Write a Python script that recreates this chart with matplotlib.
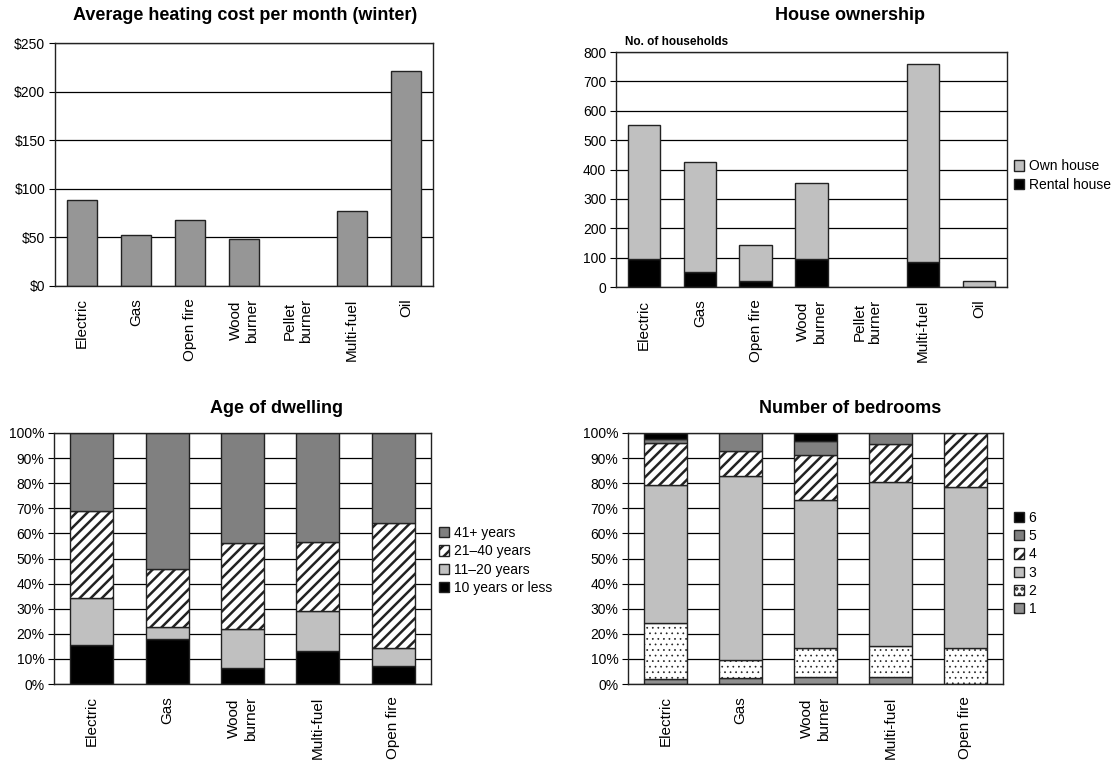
import numpy as np
import matplotlib
matplotlib.use("Agg")
import matplotlib.pyplot as plt

plt.rcParams['font.family'] = ['Liberation Sans', 'DejaVu Sans']
plt.rcParams['font.size'] = 10
plt.rcParams['hatch.linewidth'] = 1.8
plt.rcParams['hatch.color'] = 'black'

# --- data ---
cost_cats = ['Electric', 'Gas', 'Open fire', 'Wood\nburner', 'Pellet\nburner', 'Multi-fuel', 'Oil']
cost_vals = [88, 52, 68, 48, 0, 77, 221]
cost_ticks = [0, 50, 100, 150, 200, 250]
cost_labels = ['$0', '$50', '$100', '$150', '$200', '$250']

own_cats = cost_cats
own_house = [457, 374, 124, 260, 0, 676, 20]
rental_house = [94, 51, 20, 94, 0, 84, 0]

age_cats = ['Electric', 'Gas', 'Wood\nburner', 'Multi-fuel', 'Open fire']
age_names = ['10 years or less', '11\u201320 years', '21\u201340 years', '41+ years']
age_vals = [
    [15.4, 18.1, 6.2, 13.0, 7.3],
    [18.9, 4.7, 15.6, 16.0, 6.9],
    [34.8, 23.2, 34.2, 27.4, 49.8],
    [30.9, 54.0, 44.0, 43.6, 36.0],
]

bed_cats = age_cats
bed_names = ['1', '2', '3', '4', '5', '6']
bed_vals = [
    [1.9, 2.5, 2.9, 2.9, 0.0],
    [22.6, 7.2, 11.5, 12.3, 14.2],
    [54.6, 73.1, 59.1, 65.4, 64.1],
    [17.0, 9.9, 17.6, 15.1, 21.7],
    [1.6, 7.3, 5.8, 4.3, 0.0],
    [2.3, 0.0, 3.1, 0.0, 0.0],
]
pct_ticks = list(range(0, 101, 10))
pct_labels = [f'{v}%' for v in pct_ticks]

W, H = 1115, 762
fig = plt.figure(figsize=(W / 100, H / 100), dpi=100)


def box(l, t, r, b):
    return [l / W, 1 - b / H, (r - l) / W, (b - t) / H]


def style(ax, n):
    ax.set_xlim(-0.5, n - 0.5)
    ax.yaxis.grid(True, color='black', linewidth=0.9)
    ax.set_axisbelow(True)
    ax.tick_params(axis='x', length=0, pad=9, labelrotation=90, labelsize=11)
    ax.tick_params(axis='y', length=4, width=0.8, pad=3, labelsize=10)
    for s in ax.spines.values():
        s.set_color('#222222')
        s.set_linewidth(1.0)


def tidy(bars, lw=None):
    # zero-height segments are not drawn in the original
    for b in bars:
        if b.get_height() == 0:
            b.set_visible(False)
        if lw is not None and hasattr(b, 'set_hatch_linewidth'):
            b.set_hatch_linewidth(lw)


# --- average heating cost ---
ax1 = fig.add_axes(box(55, 43, 433, 286))
x = np.arange(len(cost_cats))
bars = ax1.bar(x, cost_vals, width=0.57, color='#969696', edgecolor='#222222', linewidth=1.0)
tidy(bars)
ax1.set_ylim(0, 250)
ax1.set_yticks(cost_ticks)
ax1.set_yticklabels(cost_labels)
ax1.set_xticks(x)
ax1.set_xticklabels(cost_cats)
style(ax1, len(cost_cats))
fig.text(245 / W, 1 - 15 / H, 'Average heating cost per month (winter)',
         ha='center', va='center', fontsize=13, fontweight='bold')

# --- house ownership ---
ax2 = fig.add_axes(box(616, 52, 1007, 287))
x = np.arange(len(own_cats))
b_r = ax2.bar(x, rental_house, width=0.58, color='black', edgecolor='#222222',
              linewidth=1.0, label='Rental house')
b_o = ax2.bar(x, own_house, bottom=rental_house, width=0.58, color='#c0c0c0',
              edgecolor='#222222', linewidth=1.0, label='Own house')
tidy(b_r)
tidy(b_o)
ax2.set_ylim(0, 800)
ax2.set_yticks(range(0, 801, 100))
ax2.set_xticks(x)
ax2.set_xticklabels(own_cats)
style(ax2, len(own_cats))
fig.text(850 / W, 1 - 15 / H, 'House ownership', ha='center', va='center',
         fontsize=13, fontweight='bold')
fig.text(625 / W, 1 - 42 / H, 'No. of households', ha='left', va='center',
         fontsize=8.5, fontweight='bold')
leg_kw = dict(loc='center left', frameon=False, borderpad=0, borderaxespad=0,
              handlelength=0.75, handleheight=0.75, handletextpad=0.3,
              labelspacing=0.3, fontsize=10)
fig.legend([b_o, b_r], ['Own house', 'Rental house'],
           bbox_to_anchor=(1014 / W, 1 - 175.5 / H), **leg_kw)

# --- age of dwelling ---
age_colors = ['black', '#c0c0c0', 'white', '#808080']
age_hatch = [None, None, '///', None]
ax3 = fig.add_axes(box(54, 433, 431, 684))
x = np.arange(len(age_cats))
bottom = np.zeros(len(age_cats))
age_handles = []
for vals, name, c, h in zip(age_vals, age_names, age_colors, age_hatch):
    bars = ax3.bar(x, vals, bottom=bottom, width=0.57, color=c, hatch=h,
                   edgecolor='#222222', linewidth=1.0, label=name)
    tidy(bars, 1.8 if h else None)
    age_handles.append(bars)
    bottom += np.array(vals)
ax3.set_ylim(0, 100)
ax3.set_yticks(pct_ticks)
ax3.set_yticklabels(pct_labels)
ax3.set_xticks(x)
ax3.set_xticklabels(age_cats)
style(ax3, len(age_cats))
fig.text(276 / W, 1 - 408 / H, 'Age of dwelling', ha='center', va='center',
         fontsize=13, fontweight='bold')
fig.legend(age_handles[::-1], age_names[::-1],
           bbox_to_anchor=(439 / W, 1 - 560.5 / H), **leg_kw)

# --- number of bedrooms ---
bed_colors = ['#909090', 'white', '#c0c0c0', 'white', '#808080', 'black']
bed_hatch = [None, '...', None, '///', None, None]
ax4 = fig.add_axes(box(628, 433, 1003, 684))
x = np.arange(len(bed_cats))
bottom = np.zeros(len(bed_cats))
bed_handles = []
for vals, name, c, h in zip(bed_vals, bed_names, bed_colors, bed_hatch):
    bars = ax4.bar(x, vals, bottom=bottom, width=0.57, color=c, hatch=h,
                   edgecolor='#222222', linewidth=1.0, label=name)
    if h == '...':
        tidy(bars, 0.5)
    elif h:
        tidy(bars, 1.8)
    else:
        tidy(bars)
    bed_handles.append(bars)
    bottom += np.array(vals)
ax4.set_ylim(0, 100)
ax4.set_yticks(pct_ticks)
ax4.set_yticklabels(pct_labels)
ax4.set_xticks(x)
ax4.set_xticklabels(bed_cats)
style(ax4, len(bed_cats))
fig.text(850 / W, 1 - 408 / H, 'Number of bedrooms', ha='center', va='center',
         fontsize=13, fontweight='bold')
fig.legend(bed_handles[::-1], bed_names[::-1],
           bbox_to_anchor=(1014 / W, 1 - 563.5 / H), **leg_kw)

fig.savefig('out.png', dpi=100, facecolor='white')
